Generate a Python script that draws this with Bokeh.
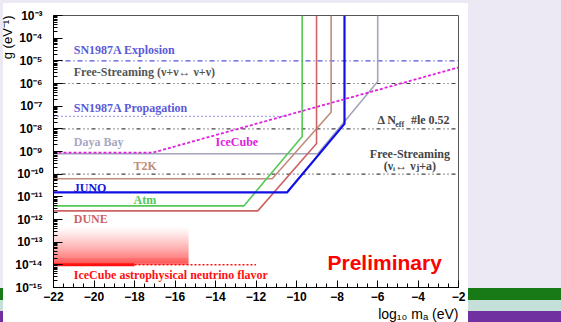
import numpy as np
from bokeh.plotting import figure
from bokeh.models import FixedTicker, Title
from bokeh.core.properties import value
from bokeh.embed import file_html
from bokeh.resources import INLINE

# ---------------- data (log10 m_a [eV], log10 g [eV^-1]) ----------------
x_ticks = [-22, -20, -18, -16, -14, -12, -10, -8, -6, -4, -2]
y_ticks = [-15, -14, -13, -12, -11, -10, -9, -8, -7, -6, -5, -4, -3]

daya_m = [-22.0, -8.95, -5.99, -5.99]
daya_g = [-9.10, -9.10, -5.91, -3.0]
t2k_m = [-22.0, -11.20, -8.29, -8.29]
t2k_g = [-10.20, -10.20, -7.27, -3.0]
juno_m = [-22.0, -10.46, -7.63, -7.63]
juno_g = [-10.80, -10.80, -7.78, -3.0]
atm_m = [-22.0, -12.60, -9.72, -9.72]
atm_g = [-11.40, -11.40, -8.34, -3.0]
dune_m = [-22.0, -11.91, -9.01, -9.01]
dune_g = [-11.62, -11.62, -8.65, -3.0]
icecube_m = [-22.0, -17.1, -2.0]
icecube_g = [-9.05, -9.05, -5.29]

sn_expl_g = -5.0
free_nn_g = -6.0
sn_prop_g = -7.45
sn_prop_m_end = -10.4
dneff_g = -8.0
free_nua_g = -10.0

flavor_g = -14.0
flavor_solid_m = [-22.0, -18.0]
flavor_dot_m = [-18.0, -12.0]
flavor_box_m = [-22.0, -15.33]
flavor_box_top = -12.3

SERIF = value("Liberation Serif, DejaVu Serif")

# ---------------- figure ----------------
p = figure(width=561, height=322, x_range=(-22, -2), y_range=(-15, -3),
           output_backend="svg", toolbar_location=None,
           min_border_left=53, min_border_right=103,
           min_border_top=15, min_border_bottom=35)
p.xgrid.visible = False
p.ygrid.visible = False
p.background_fill_color = "white"
p.border_fill_alpha = 0.0
p.outline_line_color = "#555555"
p.styles = {
    "background": "linear-gradient(#ffffff, #ffffff) 3px 3px / 465px 319px no-repeat, "
                  "linear-gradient(to bottom, #ece8f4 0px, #ece8f4 288px, #177a17 288px, #177a17 300px, "
                  "#c4e0d8 300px, #c4e0d8 311px, #7030a0 311px, #7030a0 322px)"
}

sup = str.maketrans("-0123456789", "⁻⁰¹²³⁴⁵⁶⁷⁸⁹")

x_minor = [x_ticks[0] + 0.5 * k for k in range(41)]
p.xaxis.ticker = FixedTicker(ticks=x_ticks, minor_ticks=x_minor)
p.xaxis.major_label_overrides = {t: "\u2212" + str(abs(t)) for t in x_ticks}
y_minor = [n + np.log10(k) for n in y_ticks[:-1] for k in range(2, 10)]
p.yaxis.ticker = FixedTicker(ticks=y_ticks, minor_ticks=y_minor)
p.yaxis.major_label_overrides = {t: "10" + str(t).translate(sup) for t in y_ticks}

for ax in (p.xaxis[0], p.yaxis[0]):
    ax.major_tick_out = 0
    ax.minor_tick_out = 0
    ax.major_tick_in = 7
    ax.minor_tick_in = 4
    ax.axis_line_color = "black"
    ax.major_tick_line_color = "black"
    ax.minor_tick_line_color = "black"
    ax.major_label_text_font = "Liberation Sans"
    ax.major_label_text_font_style = "bold"
    ax.major_label_text_font_size = "12px"
    ax.major_label_text_color = "black"
p.xaxis.major_label_standoff = 4
p.yaxis.major_label_standoff = 11
p.yaxis.major_tick_in = 9

# axis titles (ROOT style: at the ends of the axes)
p.add_layout(Title(text="log\u2081\u2080 m\u2090 (eV)", align="right", text_font="Liberation Sans",
                   text_font_style="normal", text_font_size="14px", standoff=0,
                   text_color="black"), "below")
p.add_layout(Title(text="g (eV\u207b\u00b9)", align="right", text_font="Liberation Sans",
                   text_font_style="normal", text_font_size="13px", standoff=-5,
                   text_color="black"), "left")

# ---------------- IceCube flavor gradient ----------------
n = 40
edges = np.linspace(flavor_g, flavor_box_top, n + 1)
alphas = [0.78 * (1 - i / n) ** 1.3 for i in range(n)]
p.quad(left=flavor_box_m[0], right=flavor_box_m[1], bottom=edges[:-1], top=edges[1:],
       fill_color="#ff2020", fill_alpha=alphas, line_color=None)
p.line(flavor_solid_m, [flavor_g] * 2, line_color="#ff1010", line_width=3)
p.line(flavor_dot_m, [flavor_g] * 2, line_color="#ff1010", line_width=1.5, line_dash="2 2")

# ---------------- horizontal bounds ----------------
p.line([-22, -2], [sn_expl_g] * 2, line_color="#5050d8", line_width=1.2, line_dash="5 3 1 3")
p.line([-22, -2], [free_nn_g] * 2, line_color="#444444", line_width=1.2, line_dash="1 3 1 3 4 3")
p.line([-22, sn_prop_m_end], [sn_prop_g] * 2, line_color="#5050d8", line_width=1.2, line_dash="1 3")
p.line([-22, -2], [dneff_g] * 2, line_color="#444444", line_width=1.2, line_dash="1 3 1 3 4 3")
p.line([-22, -2], [free_nua_g] * 2, line_color="#444444", line_width=1.2, line_dash="1 3 1 3 4 3")

# ---------------- experiment sensitivities ----------------
p.line(daya_m, daya_g, line_color="#a4a4bc", line_width=1.6)
p.line(t2k_m, t2k_g, line_color="#c08c7c", line_width=1.6)
p.line(atm_m, atm_g, line_color="#55c855", line_width=1.6)
p.line(dune_m, dune_g, line_color="#cc6464", line_width=1.6)
p.line(juno_m, juno_g, line_color="#1010e6", line_width=2.2)
p.line(icecube_m, icecube_g, line_color="#e020e0", line_width=1.8, line_dash="3 2")

# ---------------- labels ----------------
lab_x = [-21.0, -21.0, -21.0, -21.0, -14.0, -18.05, -21.0, -18.05, -21.0, -21.0]
lab_y = [-4.54, -5.51, -7.10, -8.56, -8.60, -9.62, -10.59, -11.16, -11.96, -14.47]
lab_t = ["SN1987A Explosion", "Free-Streaming (\u03bd+\u03bd\u2194 \u03bd+\u03bd)",
         "SN1987A Propagation", "Daya Bay", "IceCube", "T2K", "JUNO", "Atm", "DUNE",
         "IceCube astrophysical neutrino flavor"]
lab_c = ["#5a5ad8", "#555555", "#5a5ad8", "#a8a8c4", "#e020e0", "#c08c7c",
         "#1515d8", "#55c855", "#cc6464", "#ff1010"]
p.text(x=lab_x, y=lab_y, text=lab_t, text_color=lab_c,
       text_font=SERIF, text_font_style="bold",
       text_font_size="12px", text_baseline="middle", text_align="left")

# right-hand annotations
p.text(x=[-6.0], y=[-7.59], text=["\u0394 N"], text_color="#444444",
       text_font=SERIF, text_font_style="bold",
       text_font_size="12px", text_baseline="middle", text_align="left")
p.text(x=[-5.12], y=[-7.80], text=["eff"], text_color="#444444",
       text_font=SERIF, text_font_style="bold",
       text_font_size="8px", text_baseline="middle", text_align="left")
p.text(x=[-2.44], y=[-7.59], text=["#le 0.52"], text_color="#444444",
       text_font=SERIF, text_font_style="bold",
       text_font_size="12px", text_baseline="middle", text_align="right")
p.text(x=[-4.4, -4.4], y=[-9.09, -9.62],
       text=["Free-Streaming", "(\u03bd\u1d62\u2194 \u03bd\u2c7c+a)"], text_color="#444444",
       text_font=SERIF, text_font_style="bold",
       text_font_size="12px", text_baseline="middle", text_align="center")

p.text(x=[-8.47], y=[-13.9], text=["Preliminary"], text_color="#ff0000",
       text_font=value("Liberation Sans"), text_font_style="bold",
       text_font_size="21px", text_baseline="middle", text_align="left")

open("out.html", "w").write(file_html(p, INLINE))
